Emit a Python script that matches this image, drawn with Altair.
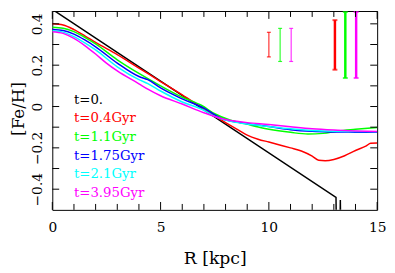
import altair as alt
import pandas as pd

# ---------------- data ----------------
NAMES = ["t=0.", "t=0.4Gyr", "t=1.1Gyr", "t=1.75Gyr", "t=2.1Gyr", "t=3.95Gyr"]
COLORS = ["#000000", "#ff0000", "#00ff00", "#0000ff", "#00ffff", "#ff00ff"]

R_black = [0, 13.1, 13.13, 13.27, 13.3, 13.33]
FeH_black = [0.47, -0.44, -0.7, -0.7, -0.452, -0.7]

R_red = [0, 0.5, 1, 1.5, 2, 3, 4, 5, 6, 7, 8, 8.6, 9, 9.5, 10, 10.5, 11, 11.5,
         12, 12.3, 12.6, 13, 13.5, 14, 14.5, 14.7, 15]
FeH_red = [0.400, 0.394, 0.372, 0.342, 0.310, 0.251, 0.186, 0.121, 0.056, -0.012,
           -0.078, -0.114, -0.138, -0.158, -0.172, -0.186, -0.200, -0.215, -0.240,
           -0.260, -0.262, -0.256, -0.238, -0.213, -0.190, -0.178, -0.177]

R_green = [0, 0.5, 1, 1.5, 2, 3, 4, 5, 6, 6.9, 7.5, 8.2, 9, 9.4, 10, 11, 11.8,
           12.5, 13.2, 14, 15]
FeH_green = [0.384, 0.379, 0.362, 0.335, 0.303, 0.226, 0.160, 0.100, 0.045, 0.005,
             -0.035, -0.065, -0.085, -0.097, -0.110, -0.125, -0.133, -0.130,
             -0.118, -0.110, -0.101]

R_blue = [0, 0.5, 1, 1.5, 2, 3, 4, 4.41, 5, 6, 7, 7.8, 8.5, 9, 10, 11, 12, 13, 14, 15]
FeH_blue = [0.373, 0.368, 0.350, 0.322, 0.289, 0.210, 0.145, 0.130, 0.090, 0.037,
            -0.008, -0.058, -0.075, -0.083, -0.097, -0.112, -0.120, -0.123,
            -0.124, -0.125]

R_cyan = [0, 0.5, 1, 1.5, 2, 3, 4, 4.41, 5, 6, 7, 7.5, 8, 9, 10, 11, 12, 13, 14, 15]
FeH_cyan = [0.367, 0.360, 0.338, 0.308, 0.274, 0.192, 0.130, 0.111, 0.075, 0.022,
            -0.018, -0.048, -0.066, -0.085, -0.097, -0.108, -0.116, -0.120,
            -0.121, -0.122]

R_mag = [0, 0.5, 1, 1.5, 2, 2.5, 3, 4, 4.41, 5, 6, 7, 7.8, 9, 10, 11, 12, 13, 14, 15]
FeH_mag = [0.362, 0.354, 0.330, 0.295, 0.254, 0.210, 0.172, 0.110, 0.084, 0.052,
           0.012, -0.030, -0.058, -0.078, -0.087, -0.098, -0.108, -0.114,
           -0.118, -0.121]

# error bars
EB_R = [10.0, 10.52, 11.03, 13.05, 13.53, 14.03]
EB_LO = [0.240, 0.218, 0.218, 0.178, 0.138, 0.138]
EB_HI = [0.359, 0.378, 0.378, 0.418, 0.457, 0.457]
EB_SERIES = ["t=0.4Gyr", "t=1.1Gyr", "t=3.95Gyr"] * 2
EB_KIND = ["thin"] * 3 + ["thick"] * 3

X_TICKS_MAJOR = [0, 5, 10, 15]
X_TICKS_MINOR = [1, 2, 3, 4, 6, 7, 8, 9, 11, 12, 13, 14]
Y_LABELS = [-0.4, -0.2, 0, 0.2, 0.4]
Y_TICKS = [-0.4, -0.3, -0.2, -0.1, 0, 0.1, 0.2, 0.3, 0.4]

# legend anchor (data coords)
LEG_R = 1.0
LEG_Y0 = 0.033
LEG_DY = 0.0905

# ---------------- build tables ----------------
series = [(NAMES[1], R_red, FeH_red), (NAMES[2], R_green, FeH_green),
          (NAMES[3], R_blue, FeH_blue), (NAMES[4], R_cyan, FeH_cyan),
          (NAMES[5], R_mag, FeH_mag)]
rows = []
for k, (n, rs, vs) in enumerate(series):
    for r, v in zip(rs, vs):
        rows.append({"series": n, "order": k, "R": r, "FeH": v})
lines = pd.DataFrame(rows)
black = pd.DataFrame({"R": R_black, "FeH": FeH_black})

leg = pd.DataFrame({"series": NAMES, "R": [LEG_R] * len(NAMES),
                    "FeH": [LEG_Y0 - i * LEG_DY for i in range(len(NAMES))]})

eb = pd.DataFrame({"R": EB_R, "lo": EB_LO, "hi": EB_HI, "series": EB_SERIES, "kind": EB_KIND})
caps = pd.concat([eb.assign(FeH=eb["lo"]), eb.assign(FeH=eb["hi"])])

xmaj = pd.DataFrame({"R": X_TICKS_MAJOR})
xmin = pd.DataFrame({"R": X_TICKS_MINOR})
yt = pd.DataFrame({"FeH": Y_TICKS})

# ---------------- scales / axes ----------------
W, H = 330, 202
FONT = "DejaVu Serif"
xs = alt.Scale(domain=[0, 15], nice=False, zero=False)
ys = alt.Scale(domain=[-0.5, 0.462], nice=False, zero=False)
cs = alt.Scale(domain=NAMES, range=COLORS)

XA = alt.Axis(orient="bottom", values=X_TICKS_MAJOR, format="d",
              ticks=False, tickSize=0, domain=False, grid=False,
              labelFont=FONT, labelFontSize=14, labelColor="black",
              labelPadding=22, labelBaseline="alphabetic",
              labelFlush=False, labelOverlap=False,
              title="R [kpc]", titleFont=FONT, titleFontSize=17.5,
              titleFontWeight="normal", titleColor="black",
              titleY=54, titleBaseline="alphabetic")
YA = alt.Axis(orient="left", values=Y_LABELS, format="~g",
              ticks=False, tickSize=0, domain=False, grid=False,
              labelFont=FONT, labelFontSize=14, labelColor="black",
              labelAngle=-90, labelAlign="center",
              labelBaseline="alphabetic", labelPadding=10.5,
              labelFlush=False, labelOverlap=False,
              title="[Fe/H]", titleFont=FONT, titleFontSize=17,
              titleFontWeight="normal", titleColor="black",
              titleX=-29, titleY=99, titleAlign="center",
              titleBaseline="alphabetic")

X = lambda f: alt.X(f, scale=xs, axis=XA)
Y = lambda f: alt.Y(f, scale=ys, axis=YA)

black_layer = alt.Chart(black).mark_line(clip=True, strokeWidth=1.5, color="black").encode(
    x=X("R:Q"), y=Y("FeH:Q"))

line_layer = alt.Chart(lines).mark_line(clip=True, strokeWidth=1.5,
                                        interpolate="monotone").encode(
    x=X("R:Q"), y=Y("FeH:Q"),
    color=alt.Color("series:N", scale=cs, legend=None),
    detail="order:O",
)

text_layer = alt.Chart(leg).mark_text(align="left", baseline="middle",
                                      font=FONT, fontSize=13.5).encode(
    x=X("R:Q"), y=Y("FeH:Q"), text="series:N",
    color=alt.Color("series:N", scale=cs, legend=None),
)

thin_rule = alt.Chart(eb[eb.kind == "thin"]).mark_rule(strokeWidth=1.2, opacity=0.8).encode(
    x=X("R:Q"), y=Y("lo:Q"), y2="hi:Q",
    color=alt.Color("series:N", scale=cs, legend=None),
)

thick_rule = alt.Chart(eb[eb.kind == "thick"]).mark_rule(strokeWidth=2.5).encode(
    x=X("R:Q"), y=Y("lo:Q"), y2="hi:Q",
    color=alt.Color("series:N", scale=cs, legend=None),
)

thin_caps = alt.Chart(caps[caps.kind == "thin"]).mark_tick(
    orient="horizontal", size=4, thickness=1.2, opacity=0.8).encode(
    x=X("R:Q"), y=Y("FeH:Q"),
    color=alt.Color("series:N", scale=cs, legend=None),
)

thick_caps = alt.Chart(caps[caps.kind == "thick"]).mark_tick(
    orient="horizontal", size=5, thickness=2).encode(
    x=X("R:Q"), y=Y("FeH:Q"),
    color=alt.Color("series:N", scale=cs, legend=None),
)


# inward frame ticks
def xticks(df, length, top):
    ch = alt.Chart(df).mark_rule(color="black", strokeWidth=1)
    if top:
        return ch.encode(x=X("R:Q"), y=alt.value(0), y2=alt.value(length))
    return ch.encode(x=X("R:Q"), y=alt.value(H), y2=alt.value(H - length))


def yticks(df, length, right):
    ch = alt.Chart(df).mark_rule(color="black", strokeWidth=1)
    if right:
        return ch.encode(y=Y("FeH:Q"), x=alt.value(W), x2=alt.value(W - length))
    return ch.encode(y=Y("FeH:Q"), x=alt.value(0), x2=alt.value(length))


tick_layers = [xticks(xmaj, 8, False), xticks(xmin, 6, False),
               xticks(xmaj, 8, True), xticks(xmin, 6, True),
               yticks(yt, 7, False), yticks(yt, 7, True)]

chart = alt.layer(black_layer, line_layer, text_layer, thin_rule, thick_rule,
                  thin_caps, thick_caps, *tick_layers).properties(
    width=W, height=H,
    autosize=alt.AutoSizeParams(type="none"),
    padding={"left": 45, "top": 1, "right": 10, "bottom": 58},
    background="white",
).configure_view(stroke="black", strokeWidth=1)

chart.save("out.html", embed_options={"renderer": "svg", "actions": False})
